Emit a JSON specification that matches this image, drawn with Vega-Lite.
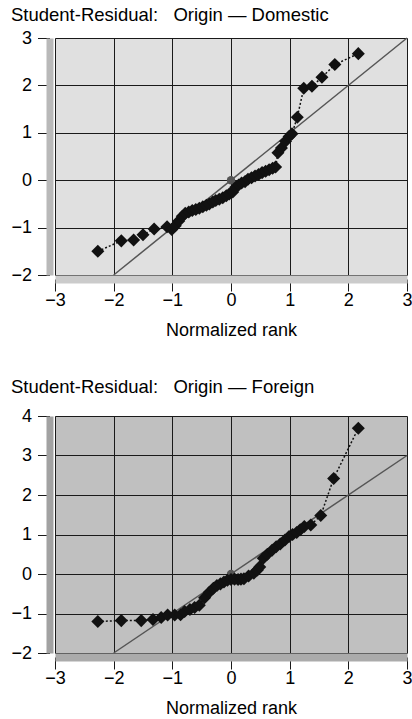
{
  "$schema": "https://vega.github.io/schema/vega-lite/v6.json",
  "padding": {"left": 10, "top": 5, "right": 0, "bottom": 0},
  "background": "white",
  "spacing": 38,
  "datasets": {
    "domestic": [
      {"rank": -2.27, "resid": -1.5}, {"rank": -1.87, "resid": -1.28}, {"rank": -1.66, "resid": -1.26},
      {"rank": -1.5, "resid": -1.15}, {"rank": -1.31, "resid": -1.03}, {"rank": -1.09, "resid": -0.98},
      {"rank": -1.01, "resid": -1.04}, {"rank": -0.95, "resid": -0.96}, {"rank": -0.89, "resid": -0.86},
      {"rank": -0.83, "resid": -0.76}, {"rank": -0.78, "resid": -0.7}, {"rank": -0.72, "resid": -0.67},
      {"rank": -0.66, "resid": -0.64}, {"rank": -0.6, "resid": -0.62}, {"rank": -0.54, "resid": -0.59},
      {"rank": -0.48, "resid": -0.56}, {"rank": -0.42, "resid": -0.53}, {"rank": -0.37, "resid": -0.5},
      {"rank": -0.31, "resid": -0.46}, {"rank": -0.26, "resid": -0.43}, {"rank": -0.2, "resid": -0.4},
      {"rank": -0.14, "resid": -0.37}, {"rank": -0.08, "resid": -0.33}, {"rank": -0.03, "resid": -0.29},
      {"rank": 0.03, "resid": -0.25}, {"rank": 0.08, "resid": -0.15}, {"rank": 0.13, "resid": -0.1},
      {"rank": 0.18, "resid": -0.06}, {"rank": 0.24, "resid": -0.03}, {"rank": 0.29, "resid": 0.02},
      {"rank": 0.35, "resid": 0.05}, {"rank": 0.41, "resid": 0.09}, {"rank": 0.47, "resid": 0.12},
      {"rank": 0.53, "resid": 0.16}, {"rank": 0.59, "resid": 0.19}, {"rank": 0.65, "resid": 0.22},
      {"rank": 0.71, "resid": 0.25}, {"rank": 0.76, "resid": 0.28}, {"rank": 0.8, "resid": 0.58},
      {"rank": 0.86, "resid": 0.68}, {"rank": 0.93, "resid": 0.82}, {"rank": 0.99, "resid": 0.92},
      {"rank": 1.04, "resid": 0.98}, {"rank": 1.13, "resid": 1.33}, {"rank": 1.24, "resid": 1.94},
      {"rank": 1.38, "resid": 1.98}, {"rank": 1.55, "resid": 2.17}, {"rank": 1.77, "resid": 2.44},
      {"rank": 2.17, "resid": 2.67}
    ],
    "foreign": [
      {"rank": -2.27, "resid": -1.2}, {"rank": -1.87, "resid": -1.18}, {"rank": -1.53, "resid": -1.18},
      {"rank": -1.33, "resid": -1.15}, {"rank": -1.19, "resid": -1.1}, {"rank": -1.08, "resid": -1.04},
      {"rank": -0.96, "resid": -1.04}, {"rank": -0.86, "resid": -1.03}, {"rank": -0.79, "resid": -0.95},
      {"rank": -0.7, "resid": -0.9}, {"rank": -0.62, "resid": -0.85}, {"rank": -0.54, "resid": -0.79},
      {"rank": -0.45, "resid": -0.6}, {"rank": -0.37, "resid": -0.46}, {"rank": -0.3, "resid": -0.36},
      {"rank": -0.24, "resid": -0.29}, {"rank": -0.18, "resid": -0.25}, {"rank": -0.12, "resid": -0.2},
      {"rank": -0.06, "resid": -0.16}, {"rank": 0.0, "resid": -0.14}, {"rank": 0.06, "resid": -0.13},
      {"rank": 0.12, "resid": -0.14}, {"rank": 0.17, "resid": -0.13}, {"rank": 0.22, "resid": -0.12},
      {"rank": 0.3, "resid": -0.05}, {"rank": 0.39, "resid": 0.02}, {"rank": 0.45, "resid": 0.1},
      {"rank": 0.49, "resid": 0.18}, {"rank": 0.55, "resid": 0.4}, {"rank": 0.62, "resid": 0.5},
      {"rank": 0.7, "resid": 0.6}, {"rank": 0.77, "resid": 0.69}, {"rank": 0.84, "resid": 0.76},
      {"rank": 0.92, "resid": 0.86}, {"rank": 0.99, "resid": 0.95}, {"rank": 1.05, "resid": 1.0},
      {"rank": 1.12, "resid": 1.05}, {"rank": 1.18, "resid": 1.12}, {"rank": 1.25, "resid": 1.2},
      {"rank": 1.36, "resid": 1.24}, {"rank": 1.53, "resid": 1.48}, {"rank": 1.75, "resid": 2.42},
      {"rank": 2.17, "resid": 3.69}
    ],
    "ref": [{"rank": -2, "resid": -2}, {"rank": 3, "resid": 3}],
    "center": [{"rank": 0, "resid": 0}]
  },
  "config": {
    "font": "Liberation Sans",
    "view": {"stroke": null},
    "axis": {
      "grid": true,
      "gridColor": "#1a1a1a",
      "gridOpacity": 1,
      "gridWidth": 1,
      "labelFont": "Liberation Sans",
      "labelFontSize": 18,
      "labelColor": "#000",
      "titleFont": "Liberation Sans",
      "titleFontSize": 18,
      "titleFontWeight": "normal",
      "titleColor": "#000",
      "tickColor": "#1a1a1a",
      "tickWidth": 1,
      "labelFlush": false,
      "labelOverlap": false
    },
    "title": {
      "font": "Liberation Sans",
      "fontSize": 18.5,
      "fontWeight": "normal",
      "color": "#000",
      "anchor": "start",
      "frame": "bounds"
    }
  },
  "vconcat": [
    {
      "width": 352,
      "height": 237,
      "title": {"text": "Student-Residual:\u00a0\u00a0\u00a0Origin — Domestic", "offset": 5},
      "view": {"fill": "#e0e0e0"},
      "encoding": {
        "x": {"field": "rank", "type": "quantitative", "scale": {"domain": [-3, 3], "nice": false},
          "axis": {"values": [-3, -2, -1, 0, 1, 2, 3], "title": "Normalized rank", "offset": 4, "tickSize": 12, "labelPadding": 0, "titlePadding": 12, "domainColor": "#cbcbcb", "domainWidth": 8}},
        "y": {"field": "resid", "type": "quantitative", "scale": {"domain": [-2, 3], "nice": false},
          "axis": {"values": [-2, -1, 0, 1, 2, 3], "title": null, "offset": 5.5, "tickSize": 12, "labelPadding": 6, "domainColor": "#b9b9b9", "domainWidth": 7}}
      },
      "layer": [
        {"data": {"name": "ref"}, "mark": {"type": "line", "color": "#555", "strokeWidth": 1.5}},
        {"data": {"name": "center"}, "mark": {"type": "point", "shape": "circle", "filled": true, "color": "#555", "size": 70, "opacity": 1}},
        {"data": {"name": "domestic"}, "mark": {"type": "line", "color": "#111", "strokeWidth": 1.5, "strokeDash": [2, 2]}},
        {"data": {"name": "domestic"}, "mark": {"type": "point", "shape": "diamond", "filled": true, "color": "#111", "size": 170, "opacity": 1}}
      ]
    },
    {
      "width": 352,
      "height": 237,
      "title": {"text": "Student-Residual:\u00a0\u00a0\u00a0Origin — Foreign", "offset": 11},
      "view": {"fill": "#c0c0c0"},
      "encoding": {
        "x": {"field": "rank", "type": "quantitative", "scale": {"domain": [-3, 3], "nice": false},
          "axis": {"values": [-3, -2, -1, 0, 1, 2, 3], "title": "Normalized rank", "offset": 4, "tickSize": 12, "labelPadding": 0, "titlePadding": 12, "domainColor": "#ababab", "domainWidth": 8}},
        "y": {"field": "resid", "type": "quantitative", "scale": {"domain": [-2, 4], "nice": false},
          "axis": {"values": [-2, -1, 0, 1, 2, 3, 4], "title": null, "offset": 5.5, "tickSize": 12, "labelPadding": 6, "domainColor": "#a2a2a2", "domainWidth": 7}}
      },
      "layer": [
        {"data": {"name": "ref"}, "mark": {"type": "line", "color": "#555", "strokeWidth": 1.5}},
        {"data": {"name": "center"}, "mark": {"type": "point", "shape": "circle", "filled": true, "color": "#555", "size": 70, "opacity": 1}},
        {"data": {"name": "foreign"}, "mark": {"type": "line", "color": "#111", "strokeWidth": 1.5, "strokeDash": [2, 2]}},
        {"data": {"name": "foreign"}, "mark": {"type": "point", "shape": "diamond", "filled": true, "color": "#111", "size": 170, "opacity": 1}}
      ]
    }
  ]
}
